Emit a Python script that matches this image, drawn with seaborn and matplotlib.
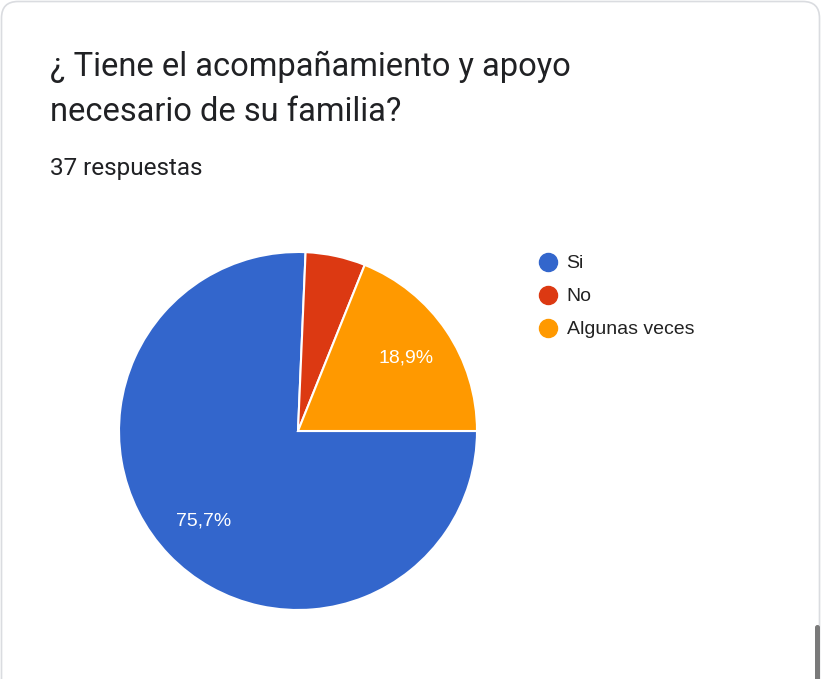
import matplotlib
matplotlib.use("Agg")
import matplotlib.pyplot as plt
from matplotlib.lines import Line2D
from matplotlib.patches import FancyBboxPatch
import seaborn as sns

categories = ["Si", "No", "Algunas veces"]
counts = [28, 2, 7]
colors = ["#3366CC", "#DC3912", "#FF9900"]
title_lines = ["¿ Tiene el acompañamiento y apoyo", "necesario de su familia?"]
subtitle = "37 respuestas"

sns.set_theme(style="white")
plt.rcParams["font.family"] = ["Liberation Sans", "DejaVu Sans"]

W, H = 828, 679
fig = plt.figure(figsize=(W / 100, H / 100), dpi=100)
fig.patch.set_facecolor("white")

# card outline (behind everything)
card = FancyBboxPatch((1.5 / W, -0.1), 818 / W, 1.1 - 1.5 / H,
                      boxstyle="round,pad=0,rounding_size=0.02",
                      transform=fig.transFigure, facecolor="none",
                      edgecolor="#dadce0", linewidth=1.2,
                      mutation_aspect=W / H, zorder=-5)
fig.patches.append(card)

# scroll bar
bar = FancyBboxPatch((815 / W, -0.05), 5 / W, (679 - 625) / H + 0.05,
                     boxstyle="round,pad=0,rounding_size=0.003",
                     transform=fig.transFigure, facecolor="#7a7a7a",
                     edgecolor="none", mutation_aspect=W / H, zorder=-4)
fig.patches.append(bar)

# title and subtitle
fig.text(50 / W, 1 - 67 / H, title_lines[0], fontsize=23.5, color="#202124",
         family=["Roboto", "DejaVu Sans"], va="center", ha="left")
fig.text(50 / W, 1 - 112 / H, title_lines[1], fontsize=23.5, color="#202124",
         family=["Roboto", "DejaVu Sans"], va="center", ha="left")
fig.text(50 / W, 1 - 168 / H, subtitle, fontsize=17.5, color="#202124",
         family=["Roboto", "DejaVu Sans"], va="center", ha="left")

# pie axes: centre (298, 431), radius 179 px
cx, cy, r = 298, 431, 179
ax = fig.add_axes([(cx - r) / W, 1 - (cy + r) / H, 2 * r / W, 2 * r / H])


def fmt_pct(pct):
    if pct < 10:
        return ""
    return f"{pct:.1f}%".replace(".", ",")


wedges, texts, autotexts = ax.pie(
    counts, colors=colors, startangle=0, counterclock=False,
    autopct=fmt_pct, pctdistance=0.73, radius=1,
    wedgeprops=dict(edgecolor="white", linewidth=1.5),
    textprops=dict(color="white", fontsize=14),
)
ax.set_xlim(-1, 1)
ax.set_ylim(-1, 1)
ax.set_aspect("equal")
ax.axis("off")

# legend
handles = [Line2D([0], [0], marker="o", linestyle="none", markersize=13,
                  markerfacecolor=c, markeredgecolor=c) for c in colors]
fig.legend(handles, categories, loc="upper left",
           bbox_to_anchor=(525.7 / W, 1 - 247 / H), frameon=False,
           fontsize=14, handletextpad=0.2, labelspacing=0.79,
           handlelength=1.5, borderaxespad=0, labelcolor="#222222")

fig.savefig("out.png", dpi=100, facecolor="white")
